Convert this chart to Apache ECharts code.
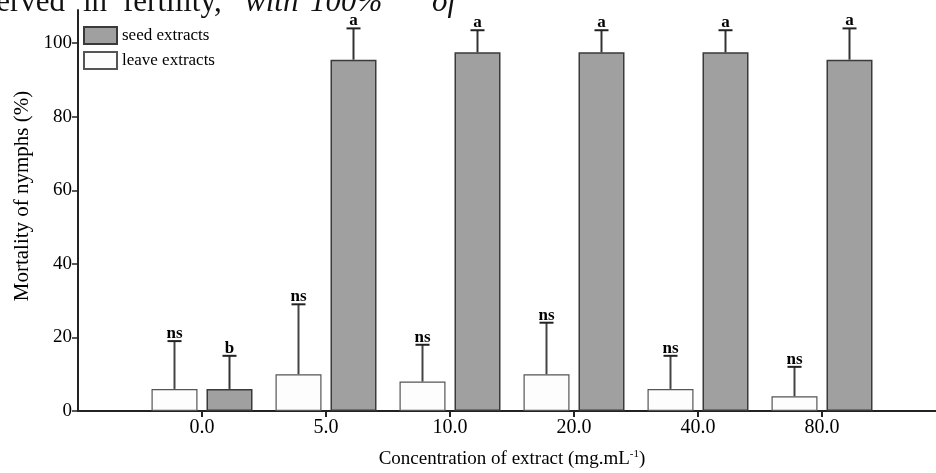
<!DOCTYPE html>
<html>
<head>
<meta charset="utf-8">
<script src="https://cdn.jsdelivr.net/npm/echarts@6/dist/echarts.min.js"></script>
<style>html,body{margin:0;padding:0;background:#fff;}#c{width:936px;height:473px;}</style>
</head>
<body>
<div id="c"></div>
<script>
// ---- data ----
var concentrations = ["0.0", "5.0", "10.0", "20.0", "40.0", "80.0"];
var leaveMean = [6, 10, 8, 10, 6, 4];
var leaveSD = [13, 19, 10, 14, 9, 8];
var leaveLetters = ["ns", "ns", "ns", "ns", "ns", "ns"];
var seedMean = [6, 95.5, 97.5, 97.5, 97.5, 95.5];
var seedSD = [9, 8.5, 6, 6, 6, 8.5];
var seedLetters = ["b", "a", "a", "a", "a", "a"];
var yTicks = [0, 20, 40, 60, 80, 100];

// ---- build ----
var FONT = "'Liberation Serif', 'DejaVu Serif', serif";
var cats = [""].concat(concentrations).concat([""]);
function pad(arr) { return ['-'].concat(arr).concat(['-']); }
var barW = 46, gapPx = 9;
var off = (barW + gapPx) / 2;

function errData(mean, sd) {
  return mean.map(function (m, i) { return [i + 1, m, sd[i]]; });
}
function makeErr(offset, letters, color) {
  return function (params, api) {
    var x = api.value(0), m = api.value(1), sd = api.value(2);
    var b = api.coord([x, m]);
    var t = api.coord([x, m + sd]);
    var cx = b[0] + offset;
    return {
      type: 'group',
      children: [
        { type: 'line', shape: { x1: cx, y1: b[1], x2: cx, y2: t[1] }, style: { stroke: color, lineWidth: 2 } },
        { type: 'line', shape: { x1: cx - 7, y1: t[1], x2: cx + 7, y2: t[1] }, style: { stroke: '#222', lineWidth: 2 } },
        { type: 'text', x: cx, y: t[1] + 1, style: { text: letters[params.dataIndex], textAlign: 'center', textVerticalAlign: 'bottom', font: 'bold 17px ' + FONT, fill: '#000' } }
      ]
    };
  };
}

var chart = echarts.init(document.getElementById('c'), null, { renderer: 'canvas' });
chart.setOption({
  animation: false,
  backgroundColor: '#fff',
  textStyle: { fontFamily: FONT },
  grid: { left: 78, top: 10, width: 868, height: 401, containLabel: false, outerBoundsMode: 'none' },
  legend: {
    orient: 'vertical', left: 83, top: 26, itemWidth: 33, itemHeight: 17, itemGap: 6,
    padding: 0, icon: 'rect',
    data: ['seed extracts', 'leave extracts'],
    textStyle: { fontFamily: FONT, fontSize: 17, color: '#000', padding: [0, 0, 0, 0] }
  },
  xAxis: {
    type: 'category', data: cats, boundaryGap: false,
    axisLine: { lineStyle: { color: '#222', width: 2 } },
    axisTick: { length: 6, lineStyle: { color: '#222', width: 2 }, interval: function (i) { return i > 0 && i < cats.length - 1; } },
    axisLabel: { fontFamily: FONT, fontSize: 20, color: '#000', margin: 7, interval: 0 },
    name: 'Concentration of extract (mg.mL{sup|-1})',
    nameLocation: 'middle', nameGap: 38,
    nameTextStyle: { fontFamily: FONT, fontSize: 19, color: '#000', rich: { sup: { fontFamily: FONT, fontSize: 11, verticalAlign: 'top', padding: [0, 0, 10, 0], color: '#000' } } }
  },
  yAxis: {
    type: 'value', min: 0, max: 109,
    splitLine: { show: false },
    axisLine: { show: true, lineStyle: { color: '#222', width: 2 } },
    axisTick: { show: true, length: 6, lineStyle: { color: '#222', width: 1.5 }, customValues: yTicks },
    axisLabel: { fontFamily: FONT, fontSize: 19, color: '#000', margin: 6, customValues: yTicks }
  },
  graphic: [
    { type: 'text', x: 22, y: 196, rotation: Math.PI / 2, style: { text: 'Mortality of nymphs (%)', textAlign: 'center', textVerticalAlign: 'middle', font: '21px ' + FONT, fill: '#000' } },
    { type: 'text', x: 65, y: 3, style: { text: 'observed', textAlign: 'right', textVerticalAlign: 'middle', font: '31px ' + FONT, fill: '#111' } },
    { type: 'text', x: 83, y: 3, style: { text: 'in', textAlign: 'left', textVerticalAlign: 'middle', font: '31px ' + FONT, fill: '#111' } },
    { type: 'text', x: 123, y: 3, style: { text: 'fertility,', textAlign: 'left', textVerticalAlign: 'middle', font: '31px ' + FONT, fill: '#111' } },
    { type: 'text', x: 245, y: 3, style: { text: 'with', textAlign: 'left', textVerticalAlign: 'middle', font: 'italic 31px ' + FONT, fill: '#111' } },
    { type: 'text', x: 310, y: 3, style: { text: '100%', textAlign: 'left', textVerticalAlign: 'middle', font: 'italic 31px ' + FONT, fill: '#111' } },
    { type: 'text', x: 432, y: 3, style: { text: 'of', textAlign: 'left', textVerticalAlign: 'middle', font: 'italic 31px ' + FONT, fill: '#111' } }
  ],
  series: [
    {
      name: 'leave extracts', type: 'bar', data: pad(leaveMean), barWidth: barW, barGap: (gapPx / barW * 100) + '%',
      itemStyle: { color: '#fdfdfd', borderColor: '#555', borderWidth: 1.2 }, z: 2
    },
    {
      name: 'seed extracts', type: 'bar', data: pad(seedMean), barWidth: barW,
      itemStyle: { color: '#a0a0a0', borderColor: '#3a3a3a', borderWidth: 1.5 }, z: 2
    },
    {
      type: 'custom', data: errData(leaveMean, leaveSD), renderItem: makeErr(-off, leaveLetters, '#444'), z: 3, silent: true
    },
    {
      type: 'custom', data: errData(seedMean, seedSD), renderItem: makeErr(off, seedLetters, '#333'), z: 3, silent: true
    }
  ]
});
</script>
</body>
</html>
